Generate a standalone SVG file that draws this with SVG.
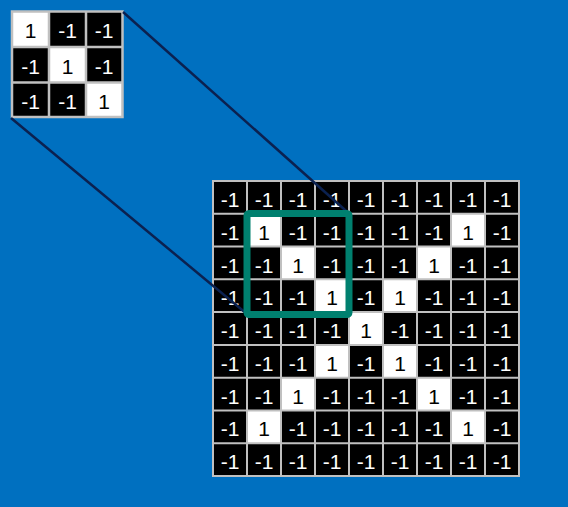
<svg xmlns="http://www.w3.org/2000/svg" width="568" height="507" viewBox="0 0 568 507">
<style>
.b{fill:#000000}
.w{fill:#FFFFFF}
.grid{fill:none;stroke:#C0C0C0;stroke-width:2}
.sgrid{fill:none;stroke:#C0C0C0;stroke-width:2.5}
.tw{fill:#FFFFFF;font-family:"Liberation Sans",Arial,sans-serif;font-size:21px;text-anchor:middle}
.tb{fill:#000000;font-family:"Liberation Sans",Arial,sans-serif;font-size:21px;text-anchor:middle}
.conn{stroke:#0B2150;stroke-width:2.5;fill:none}
</style>
<rect x="0" y="0" width="568" height="507" fill="#0070C0"/>

<g id="kernel">
<rect x="12" y="11.5" width="110.5" height="105.5" class="b"/>
<rect x="12" y="11.5" width="37" height="35.5" class="w"/>
<rect x="49" y="47" width="37" height="35.5" class="w"/>
<rect x="86" y="82.5" width="36.5" height="34.5" class="w"/>
<path class="sgrid" d="M12 11.5H122.5V117H12Z M49 11.5V117 M86 11.5V117 M12 47H122.5 M12 82.5H122.5"/>
<text x="30.5" y="38" class="tb">1</text>
<text x="67.5" y="38" class="tw">-1</text>
<text x="104" y="38" class="tw">-1</text>
<text x="30.5" y="73.5" class="tw">-1</text>
<text x="67.5" y="73.5" class="tb">1</text>
<text x="104" y="73.5" class="tw">-1</text>
<text x="30.5" y="108.5" class="tw">-1</text>
<text x="67.5" y="108.5" class="tw">-1</text>
<text x="104" y="108.5" class="tb">1</text>
</g>

<g id="image">
<rect x="213" y="181" width="306" height="295" class="b"/>
<rect x="247" y="213.78" width="34" height="32.78" class="w"/>
<rect x="451" y="213.78" width="34" height="32.78" class="w"/>
<rect x="281" y="246.56" width="34" height="32.78" class="w"/>
<rect x="417" y="246.56" width="34" height="32.78" class="w"/>
<rect x="315" y="279.33" width="34" height="32.78" class="w"/>
<rect x="383" y="279.33" width="34" height="32.78" class="w"/>
<rect x="349" y="312.11" width="34" height="32.78" class="w"/>
<rect x="315" y="344.89" width="34" height="32.78" class="w"/>
<rect x="383" y="344.89" width="34" height="32.78" class="w"/>
<rect x="281" y="377.67" width="34" height="32.78" class="w"/>
<rect x="417" y="377.67" width="34" height="32.78" class="w"/>
<rect x="247" y="410.44" width="34" height="32.78" class="w"/>
<rect x="451" y="410.44" width="34" height="32.78" class="w"/>
<path class="grid" d="M213 181H519V476H213Z M247 181V476 M281 181V476 M315 181V476 M349 181V476 M383 181V476 M417 181V476 M451 181V476 M485 181V476 M213 213.78H519 M213 246.56H519 M213 279.33H519 M213 312.11H519 M213 344.89H519 M213 377.67H519 M213 410.44H519 M213 443.22H519"/>
<text x="230" y="207" class="tw">-1</text><text x="264" y="207" class="tw">-1</text><text x="298" y="207" class="tw">-1</text><text x="332" y="207" class="tw">-1</text><text x="366" y="207" class="tw">-1</text><text x="400" y="207" class="tw">-1</text><text x="434" y="207" class="tw">-1</text><text x="468" y="207" class="tw">-1</text><text x="502" y="207" class="tw">-1</text>
<text x="230" y="239.8" class="tw">-1</text><text x="264" y="239.8" class="tb">1</text><text x="298" y="239.8" class="tw">-1</text><text x="332" y="239.8" class="tw">-1</text><text x="366" y="239.8" class="tw">-1</text><text x="400" y="239.8" class="tw">-1</text><text x="434" y="239.8" class="tw">-1</text><text x="468" y="239.8" class="tb">1</text><text x="502" y="239.8" class="tw">-1</text>
<text x="230" y="272.6" class="tw">-1</text><text x="264" y="272.6" class="tw">-1</text><text x="298" y="272.6" class="tb">1</text><text x="332" y="272.6" class="tw">-1</text><text x="366" y="272.6" class="tw">-1</text><text x="400" y="272.6" class="tw">-1</text><text x="434" y="272.6" class="tb">1</text><text x="468" y="272.6" class="tw">-1</text><text x="502" y="272.6" class="tw">-1</text>
<text x="230" y="305.3" class="tw">-1</text><text x="264" y="305.3" class="tw">-1</text><text x="298" y="305.3" class="tw">-1</text><text x="332" y="305.3" class="tb">1</text><text x="366" y="305.3" class="tw">-1</text><text x="400" y="305.3" class="tb">1</text><text x="434" y="305.3" class="tw">-1</text><text x="468" y="305.3" class="tw">-1</text><text x="502" y="305.3" class="tw">-1</text>
<text x="230" y="338.1" class="tw">-1</text><text x="264" y="338.1" class="tw">-1</text><text x="298" y="338.1" class="tw">-1</text><text x="332" y="338.1" class="tw">-1</text><text x="366" y="338.1" class="tb">1</text><text x="400" y="338.1" class="tw">-1</text><text x="434" y="338.1" class="tw">-1</text><text x="468" y="338.1" class="tw">-1</text><text x="502" y="338.1" class="tw">-1</text>
<text x="230" y="370.9" class="tw">-1</text><text x="264" y="370.9" class="tw">-1</text><text x="298" y="370.9" class="tw">-1</text><text x="332" y="370.9" class="tb">1</text><text x="366" y="370.9" class="tw">-1</text><text x="400" y="370.9" class="tb">1</text><text x="434" y="370.9" class="tw">-1</text><text x="468" y="370.9" class="tw">-1</text><text x="502" y="370.9" class="tw">-1</text>
<text x="230" y="403.7" class="tw">-1</text><text x="264" y="403.7" class="tw">-1</text><text x="298" y="403.7" class="tb">1</text><text x="332" y="403.7" class="tw">-1</text><text x="366" y="403.7" class="tw">-1</text><text x="400" y="403.7" class="tw">-1</text><text x="434" y="403.7" class="tb">1</text><text x="468" y="403.7" class="tw">-1</text><text x="502" y="403.7" class="tw">-1</text>
<text x="230" y="436.4" class="tw">-1</text><text x="264" y="436.4" class="tb">1</text><text x="298" y="436.4" class="tw">-1</text><text x="332" y="436.4" class="tw">-1</text><text x="366" y="436.4" class="tw">-1</text><text x="400" y="436.4" class="tw">-1</text><text x="434" y="436.4" class="tw">-1</text><text x="468" y="436.4" class="tb">1</text><text x="502" y="436.4" class="tw">-1</text>
<text x="230" y="469.2" class="tw">-1</text><text x="264" y="469.2" class="tw">-1</text><text x="298" y="469.2" class="tw">-1</text><text x="332" y="469.2" class="tw">-1</text><text x="366" y="469.2" class="tw">-1</text><text x="400" y="469.2" class="tw">-1</text><text x="434" y="469.2" class="tw">-1</text><text x="468" y="469.2" class="tw">-1</text><text x="502" y="469.2" class="tw">-1</text>
</g>

<g id="connectors">
<line class="conn" x1="123" y1="12" x2="349" y2="213.5"/>
<line class="conn" x1="11" y1="118" x2="247" y2="314"/>
</g>

<g id="highlight">
<rect x="247" y="213.5" width="102" height="101" rx="2" fill="none" stroke="#00806F" stroke-width="7"/>
</g>
</svg>
